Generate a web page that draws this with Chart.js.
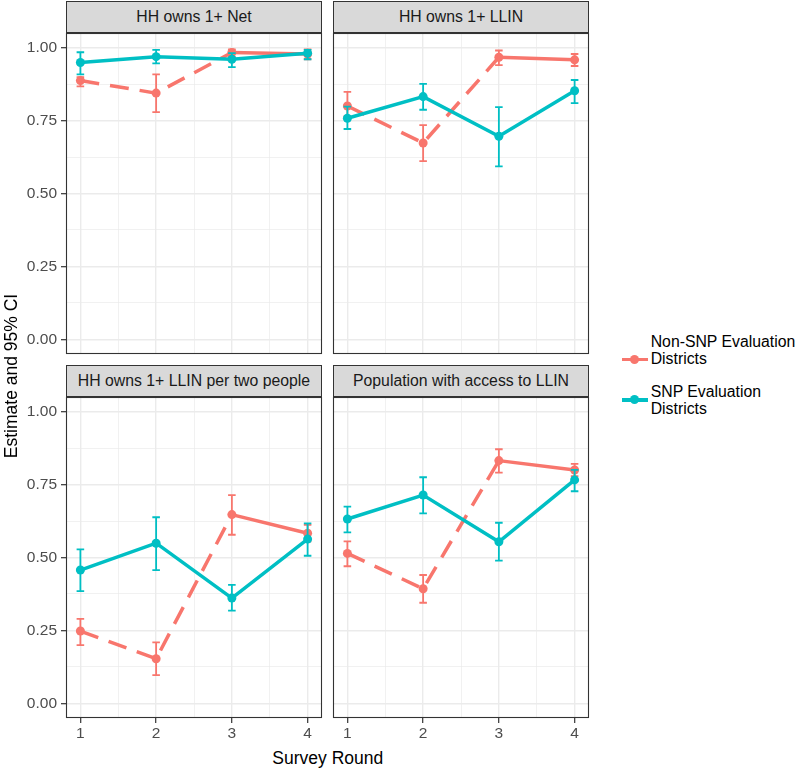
<!DOCTYPE html>
<html>
<head>
<meta charset="utf-8">
<script src="https://cdn.jsdelivr.net/npm/chart.js@4.4.1/dist/chart.umd.min.js"></script>
<style>
  html, body { margin: 0; padding: 0; background: #ffffff; }
  body { width: 797px; height: 769px; position: relative; overflow: hidden;
         font-family: "Liberation Sans", Arial, Helvetica, sans-serif; }
  canvas { position: absolute; }
  .strip { position: absolute; box-sizing: border-box; background: #D9D9D9;
           border: 1px solid #333333; color: #1A1A1A; font-size: 15.8px;
           display: flex; align-items: center; justify-content: center; white-space: nowrap; }
  .txt { position: absolute; white-space: nowrap; }
  .legtxt { position: absolute; font-size: 15.8px; line-height: 16.7px; color: #000; white-space: nowrap; }
  .legline { position: absolute; height: 3.5px; }
  .legdot { position: absolute; width: 9px; height: 9px; border-radius: 50%; }
</style>
</head>
<body>
<div class="strip" style="left:66px; top:1px; width:256px; height:32px;" id="s0"></div>
<div class="strip" style="left:333px; top:1px; width:256px; height:32px;" id="s1"></div>
<div class="strip" style="left:66px; top:365px; width:256px; height:32px;" id="s2"></div>
<div class="strip" style="left:333px; top:365px; width:256px; height:32px;" id="s3"></div>

<canvas id="c0" width="324" height="325" style="left:0px; top:31px;"></canvas>
<canvas id="c1" width="260" height="325" style="left:331px; top:31px;"></canvas>
<canvas id="c2" width="324" height="351" style="left:0px; top:395px;"></canvas>
<canvas id="c3" width="260" height="351" style="left:331px; top:395px;"></canvas>

<div class="txt" id="ytitle" style="left:-139.4px; top:365.5px; width:300px; height:20px; line-height:20px; font-size:17.5px; text-align:center; transform:rotate(-90deg); color:#000;"></div>
<div class="txt" id="xtitle" style="left:0px; top:747.6px; width:655.6px; height:20px; line-height:20px; font-size:17.5px; text-align:center; color:#000;"></div>

<div class="legline" style="left:622px; top:357.5px; width:25.5px; background:#F8766D;"></div>
<div class="legdot" style="left:630px; top:354.7px; background:#F8766D;"></div>
<div class="legtxt" id="leg0" style="left:650.7px; top:334.3px;"></div>
<div class="legline" style="left:622px; top:398px; width:25.5px; background:#00BFC4;"></div>
<div class="legdot" style="left:630px; top:395.2px; background:#00BFC4;"></div>
<div class="legtxt" id="leg1" style="left:650.7px; top:384.3px;"></div>

<script>
// ---------------- data ----------------
const rounds = [1, 2, 3, 4];
const panelTitles = ["HH owns 1+ Net", "HH owns 1+ LLIN", "HH owns 1+ LLIN per two people", "Population with access to LLIN"];
const seriesNames = ["Non-SNP Evaluation\nDistricts", "SNP Evaluation\nDistricts"];
const xTickValues = [1, 1.5, 2, 2.5, 3, 3.5, 4];
const yTickValues = [0, 0.125, 0.25, 0.375, 0.5, 0.625, 0.75, 0.875, 1];
const xAxisTitle = "Survey Round";
const yAxisTitle = "Estimate and 95% CI";

// HH owns 1+ Net
const netNonSnp   = [0.887, 0.844, 0.983, 0.978];
const netNonSnpLo = [0.867, 0.779, 0.969, 0.960];
const netNonSnpHi = [0.899, 0.908, 0.994, 0.994];
const netSnp      = [0.949, 0.969, 0.960, 0.981];
const netSnpLo    = [0.908, 0.946, 0.933, 0.960];
const netSnpHi    = [0.984, 0.992, 0.981, 0.992];

// HH owns 1+ LLIN
const llinNonSnp   = [0.800, 0.673, 0.967, 0.958];
const llinNonSnpLo = [0.765, 0.611, 0.940, 0.937];
const llinNonSnpHi = [0.848, 0.734, 0.990, 0.978];
const llinSnp      = [0.758, 0.832, 0.696, 0.852];
const llinSnpLo    = [0.721, 0.787, 0.593, 0.810];
const llinSnpHi    = [0.798, 0.876, 0.796, 0.889];

// HH owns 1+ LLIN per two people
const twoNonSnp   = [0.248, 0.153, 0.647, 0.583];
const twoNonSnpLo = [0.200, 0.097, 0.578, 0.555];
const twoNonSnpHi = [0.290, 0.209, 0.714, 0.612];
const twoSnp      = [0.457, 0.549, 0.361, 0.563];
const twoSnpLo    = [0.385, 0.457, 0.318, 0.506];
const twoSnpHi    = [0.528, 0.638, 0.406, 0.617];

// Population with access to LLIN
const accNonSnp   = [0.514, 0.393, 0.832, 0.800];
const accNonSnpLo = [0.470, 0.345, 0.791, 0.779];
const accNonSnpHi = [0.555, 0.440, 0.871, 0.821];
const accSnp      = [0.632, 0.714, 0.554, 0.766];
const accSnpLo    = [0.586, 0.651, 0.489, 0.727];
const accSnpHi    = [0.674, 0.775, 0.619, 0.800];

// ---------------- styles ----------------
const COL_NON = "#F8766D";
const COL_SNP = "#00BFC4";
const FONT = "'Liberation Sans', Arial, Helvetica, sans-serif";

["s0","s1","s2","s3"].forEach((id, i) => document.getElementById(id).textContent = panelTitles[i]);
document.getElementById("xtitle").textContent = xAxisTitle;
document.getElementById("ytitle").textContent = yAxisTitle;
document.getElementById("leg0").innerHTML = seriesNames[0].replace("\n", "<br>");
document.getElementById("leg1").innerHTML = seriesNames[1].replace("\n", "<br>");

const isMajorY = v => Math.abs(v * 4 - Math.round(v * 4)) < 1e-9;
const isMajorX = v => Math.abs(v - Math.round(v)) < 1e-9;

const errorBarPlugin = {
  id: "errorBars",
  afterDatasetDraw(chart, args) {
    const ds = chart.data.datasets[args.index];
    if (!ds.errLo) return;
    const xs = chart.scales.x, ys = chart.scales.y, ctx = chart.ctx;
    ctx.save();
    ctx.strokeStyle = ds.borderColor;
    ctx.lineWidth = 1.8;
    ctx.lineCap = "butt";
    ds.data.forEach((p, i) => {
      const x = xs.getPixelForValue(p.x);
      const xl = xs.getPixelForValue(p.x - 0.05);
      const xr = xs.getPixelForValue(p.x + 0.05);
      const yl = ys.getPixelForValue(ds.errLo[i]);
      const yh = ys.getPixelForValue(ds.errHi[i]);
      ctx.beginPath();
      ctx.moveTo(x, yl); ctx.lineTo(x, yh);
      ctx.moveTo(xl, yl); ctx.lineTo(xr, yl);
      ctx.moveTo(xl, yh); ctx.lineTo(xr, yh);
      ctx.stroke();
    });
    ctx.restore();
  }
};

const borderPlugin = {
  id: "panelBorder",
  afterDraw(chart) {
    const a = chart.chartArea, ctx = chart.ctx;
    ctx.save();
    ctx.strokeStyle = "#333333";
    ctx.lineWidth = 1.1;
    ctx.strokeRect(a.left + 0.5, a.top + 0.5, a.right - a.left - 1, a.bottom - a.top - 1);
    ctx.restore();
  }
};

function zeroPad(s) { s.paddingTop = 0; s.paddingBottom = 0; s.paddingLeft = 0; s.paddingRight = 0; }

function makePanel(id, non, nonLo, nonHi, snp, snpLo, snpHi, showX, showY, padLeft) {
  const toPts = arr => rounds.map((r, i) => ({ x: r, y: arr[i] }));
  new Chart(document.getElementById(id), {
    type: "line",
    data: {
      datasets: [
        {
          label: seriesNames[0], data: toPts(non), errLo: nonLo, errHi: nonHi,
          borderColor: COL_NON, backgroundColor: COL_NON, borderWidth: 3.5,
          pointRadius: 4.5, pointBorderWidth: 0, pointBackgroundColor: COL_NON,
          tension: 0, order: 2, borderCapStyle: "butt",
          segment: { borderDash: c => (c.p0DataIndex < 2 ? [19, 11] : undefined) }
        },
        {
          label: seriesNames[1], data: toPts(snp), errLo: snpLo, errHi: snpHi,
          borderColor: COL_SNP, backgroundColor: COL_SNP, borderWidth: 3.5,
          pointRadius: 4.5, pointBorderWidth: 0, pointBackgroundColor: COL_SNP,
          tension: 0, order: 1, borderCapStyle: "butt"
        }
      ]
    },
    options: {
      responsive: false, animation: false, devicePixelRatio: 1,
      layout: { autoPadding: false, padding: { top: 2, right: 2, bottom: showX ? 0 : 2, left: padLeft } },
      plugins: { legend: { display: false }, tooltip: { enabled: false } },
      scales: {
        x: {
          type: "linear", min: 0.81, max: 4.19,
          afterBuildTicks: s => { s.ticks = xTickValues.map(v => ({ value: v })); },
          afterFit: s => { s.height = showX ? 28 : 0; zeroPad(s); },
          border: { display: false },
          grid: {
            color: "#EBEBEB",
            lineWidth: c => (c.tick && isMajorX(c.tick.value) ? 1.4 : 0.7),
            drawTicks: showX, tickLength: 5, tickWidth: 1.2,
            tickColor: c => (c.tick && isMajorX(c.tick.value) ? "#333333" : "rgba(0,0,0,0)")
          },
          ticks: {
            display: showX, autoSkip: false, maxRotation: 0, padding: 1,
            color: "#4D4D4D", font: { family: FONT, size: 15.5 },
            callback: v => (isMajorX(v) ? String(v) : "")
          }
        },
        y: {
          type: "linear", min: -0.05, max: 1.05,
          afterBuildTicks: s => { s.ticks = yTickValues.map(v => ({ value: v })); },
          afterFit: s => { s.width = showY ? 66 : 0; zeroPad(s); },
          border: { display: false },
          grid: {
            color: "#EBEBEB",
            lineWidth: c => (c.tick && isMajorY(c.tick.value) ? 1.4 : 0.7),
            drawTicks: showY, tickLength: 5, tickWidth: 1.2,
            tickColor: c => (c.tick && isMajorY(c.tick.value) ? "#333333" : "rgba(0,0,0,0)")
          },
          ticks: {
            display: showY, autoSkip: false, padding: 4,
            color: "#4D4D4D", font: { family: FONT, size: 15.5 },
            callback: v => (isMajorY(v) ? v.toFixed(2) : "")
          }
        }
      }
    },
    plugins: [errorBarPlugin, borderPlugin]
  });
}

makePanel("c0", netNonSnp, netNonSnpLo, netNonSnpHi, netSnp, netSnpLo, netSnpHi, false, true, 0);
makePanel("c1", llinNonSnp, llinNonSnpLo, llinNonSnpHi, llinSnp, llinSnpLo, llinSnpHi, false, false, 2);
makePanel("c2", twoNonSnp, twoNonSnpLo, twoNonSnpHi, twoSnp, twoSnpLo, twoSnpHi, true, true, 0);
makePanel("c3", accNonSnp, accNonSnpLo, accNonSnpHi, accSnp, accSnpLo, accSnpHi, true, false, 2);
</script>
</body>
</html>
